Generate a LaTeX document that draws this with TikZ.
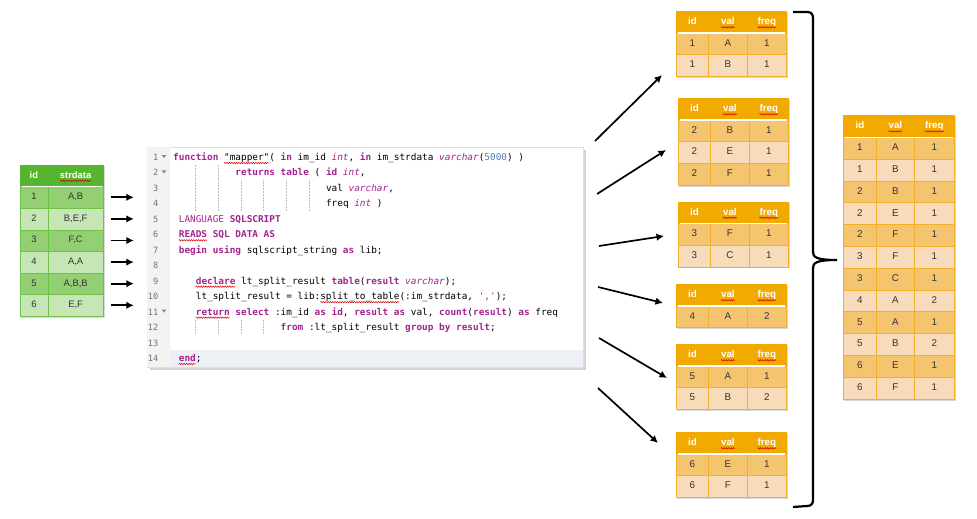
\documentclass[tikz,border=0pt]{standalone}
\usepackage{fontspec}
\setmainfont{Liberation Sans}
\setmonofont{DejaVu Sans Mono}
\usetikzlibrary{matrix,shadows,arrows.meta,decorations.pathmorphing}

\definecolor{grhead}{HTML}{55B52E}
\definecolor{grodd}{HTML}{93CF73}
\definecolor{greven}{HTML}{C6E6B5}
\definecolor{grline}{HTML}{70C24A}
\definecolor{orhead}{HTML}{F2A900}
\definecolor{orodd}{HTML}{F5C46F}
\definecolor{oreven}{HTML}{F8DBBA}
\definecolor{orline}{HTML}{F2B12C}
\definecolor{sqlkw}{HTML}{A3238F}
\definecolor{sqlnum}{HTML}{4F7FB0}
\definecolor{gutter}{HTML}{F3F3F3}
\definecolor{curline}{HTML}{EDF1F6}

\newcommand{\kw}[1]{\textcolor{sqlkw}{\bfseries #1}}
\newcommand{\ty}[1]{\textcolor{sqlkw}{\itshape #1}}
\newcommand{\nm}[1]{\textcolor{sqlnum}{#1}}
\newcommand{\codex}[1]{173+#1*5.66}
\newcommand{\codey}[1]{160.5+(#1-1)*15.46}

\begin{document}
\begin{tikzpicture}[x=1pt,y=-1pt,
	orange table/.style={matrix of nodes,anchor=north west,inner sep=0pt,
		row sep=-\pgflinewidth,column sep=-\pgflinewidth,
		drop shadow={shadow xshift=1pt,shadow yshift=-1.5pt,opacity=0.3},
		nodes={draw=orline,fill=oreven,inner sep=0pt,anchor=center,minimum height=21.6pt,
			text height=7pt,text depth=2pt,text=black!80,font=\fontsize{9.8}{11}\selectfont},
		column 1/.style={nodes={minimum width=32pt}},
		column 2/.style={nodes={minimum width=39pt}},
		column 3/.style={nodes={minimum width=39pt}},
		every even row/.style={nodes={fill=orodd}},
		row 1/.style={nodes={fill=orhead,draw=orhead,text=white,font=\fontsize{9.8}{11}\selectfont\bfseries}}},
	all table/.style={orange table,nodes={minimum height=21.8pt},
		column 1/.style={nodes={minimum width=33pt}},
		column 2/.style={nodes={minimum width=38pt}},
		column 3/.style={nodes={minimum width=40pt}}},
	green table/.style={matrix of nodes,anchor=north west,inner sep=0pt,
		row sep=-\pgflinewidth,column sep=-\pgflinewidth,
		drop shadow={shadow xshift=1pt,shadow yshift=-1.5pt,opacity=0.3},
		nodes={draw=grline,fill=greven,inner sep=0pt,anchor=center,minimum height=21.6pt,
			text height=6.8pt,text depth=1.9pt,text=black!80,font=\fontsize{9.4}{11}\selectfont},
		column 1/.style={nodes={minimum width=28pt}},
		column 2/.style={nodes={minimum width=55.5pt}},
		every even row/.style={nodes={fill=grodd}},
		row 1/.style={nodes={fill=grhead,draw=grhead,text=white,font=\fontsize{9.4}{11}\selectfont\bfseries}}},
	code box/.style={draw=black!12,fill=white,inner sep=0pt,minimum width=436pt,minimum height=220pt,
		drop shadow={shadow xshift=3pt,shadow yshift=-3pt,opacity=0.35}},
	code line/.style={anchor=base west,inner sep=0pt,font=\fontsize{9.4}{10}\selectfont\ttfamily},
	line no/.style={anchor=base east,inner sep=0pt,text=black!55,font=\fontsize{8.6}{10}\selectfont\ttfamily},
	guide/.style={densely dotted,black!25,line width=0.5pt},
	squig/.style={red!85!black,line width=0.5pt,decorate,decoration={snake,amplitude=0.7pt,segment length=2.4pt}},
	arr/.style={-{Latex[length=7.5pt,width=7.5pt]},line width=1.7pt}]

\useasboundingbox (0,0) rectangle (977,519);

% input rows
\matrix[green table] (indata) at (19.5,164.5) {
	id & strdata \\
	1 & A,B \\
	2 & B,E,F \\
	3 & F,C \\
	4 & A,A \\
	5 & A,B,B \\
	6 & E,F \\
};

% mapper function
\node[code box] (code) at (365,257) {};
\fill[gutter] ([shift={(0.5,0.5)}]code.north west) rectangle ([shift={(23,-0.5)}]code.south west);
\fill[curline] (170,350) rectangle ([shift={(-0.5,-0.5)}]code.south east);

\foreach \n in {1,...,14}
	\node[line no] (n\n) at (158.5,{\codey{\n}}) {\n};
\foreach \n in {1,2,11}
	\fill[black!45] (161.5,{\codey{\n}-5.5}) -- ++(5,0) -- ++(-2.5,3) -- cycle;

\foreach \k in {1,2}
	\draw[guide] ({\codex{4*\k}},{\codey{2}-11}) -- ({\codex{4*\k}},{\codey{2}+4});
\foreach \k in {1,...,6}
	\draw[guide] ({\codex{4*\k}},{\codey{3}-11}) -- ({\codex{4*\k}},{\codey{4}+4});
\foreach \k in {1,...,4}
	\draw[guide] ({\codex{4*\k}},{\codey{12}-11}) -- ({\codex{4*\k}},{\codey{12}+4});

\node[code line] (c1) at ({\codex{0}},{\codey{1}}) {\kw{function} "mapper"( \kw{in} im\_id \ty{int}, \kw{in} im\_strdata \ty{varchar}(\nm{5000}) )};
\node[code line] (c2) at ({\codex{11}},{\codey{2}}) {\kw{returns table} ( \kw{id} \ty{int},};
\node[code line] (c3) at ({\codex{27}},{\codey{3}}) {val \ty{varchar},};
\node[code line] (c4) at ({\codex{27}},{\codey{4}}) {freq \ty{int} )};
\node[code line] (c5) at ({\codex{1}},{\codey{5}}) {\textcolor{sqlkw}{LANGUAGE} \kw{SQLSCRIPT}};
\node[code line] (c6) at ({\codex{1}},{\codey{6}}) {\kw{READS SQL DATA AS}};
\node[code line] (c7) at ({\codex{1}},{\codey{7}}) {\kw{begin using} sqlscript\_string \kw{as} lib;};
\node[code line] (c9) at ({\codex{4}},{\codey{9}}) {\kw{declare} lt\_split\_result \kw{table}(\kw{result} \ty{varchar});};
\node[code line] (c10) at ({\codex{4}},{\codey{10}}) {lt\_split\_result = lib:split\_to\_table(:im\_strdata, \textcolor{sqlkw}{','});};
\node[code line] (c11) at ({\codex{4}},{\codey{11}}) {\kw{return select} :im\_id \kw{as} \kw{id}, \kw{result} \kw{as} val, \kw{count}(\kw{result}) \kw{as} freq};
\node[code line] (c12) at ({\codex{19}},{\codey{12}}) {\kw{from} :lt\_split\_result \kw{group by} \kw{result};};
\node[code line] (c14) at ({\codex{1}},{\codey{14}}) {\kw{end};};

\foreach \ln/\a/\b in {1/9/17,6/1/6,9/4/11,10/26/40,11/4/10,14/1/4}
	\draw[squig] ({\codex{\a}},{\codey{\ln}+2.5}) -- ({\codex{\b}},{\codey{\ln}+2.5});

% output of each call
\matrix[orange table] (t1) at (676,11) {
	id & val & freq \\
	1 & A & 1 \\
	1 & B & 1 \\
};
\matrix[orange table] (t2) at (678,98) {
	id & val & freq \\
	2 & B & 1 \\
	2 & E & 1 \\
	2 & F & 1 \\
};
\matrix[orange table] (t3) at (678,201.5) {
	id & val & freq \\
	3 & F & 1 \\
	3 & C & 1 \\
};
\matrix[orange table] (t4) at (676,284) {
	id & val & freq \\
	4 & A & 2 \\
};
\matrix[orange table] (t5) at (676,344) {
	id & val & freq \\
	5 & A & 1 \\
	5 & B & 2 \\
};
\matrix[orange table] (t6) at (676,432) {
	id & val & freq \\
	6 & E & 1 \\
	6 & F & 1 \\
};

% union
\matrix[all table] (alltab) at (843,115) {
	id & val & freq \\
	1 & A & 1 \\
	1 & B & 1 \\
	2 & B & 1 \\
	2 & E & 1 \\
	2 & F & 1 \\
	3 & F & 1 \\
	3 & C & 1 \\
	4 & A & 2 \\
	5 & A & 1 \\
	5 & B & 2 \\
	6 & E & 1 \\
	6 & F & 1 \\
};

\foreach \tb in {t1,t2,t3,t4,t5,t6,alltab} {
	\draw[white,line width=1.5pt] ([shift={(2,0)}]\tb-1-1.south west) -- ([shift={(-2,0)}]\tb-1-3.south east);
	\draw[squig] ([shift={(-7,2.6)}]\tb-1-2.base) -- ++(14,0);
	\draw[squig] ([shift={(-9.5,2.6)}]\tb-1-3.base) -- ++(19,0);
}
\draw[white,line width=1.5pt] ([shift={(2,0)}]indata-1-1.south west) -- ([shift={(-2,0)}]indata-1-2.south east);
\draw[squig] ([shift={(-15.5,2.6)}]indata-1-2.base) -- ++(31,0);

% arrows
\foreach \r in {2,...,7}
	\draw[arr,shorten <=7pt,shorten >=13pt] (indata-\r-2.east) -- (indata-\r-2.east -| code.west);

\coordinate (s1) at (595,141); \coordinate (e1) at (662,75);
\coordinate (s2) at (597,194); \coordinate (e2) at (666,150);
\coordinate (s3) at (599,246); \coordinate (e3) at (664,236);
\coordinate (s4) at (598,287); \coordinate (e4) at (663,303);
\coordinate (s5) at (599,338); \coordinate (e5) at (667,378);
\coordinate (s6) at (598,388); \coordinate (e6) at (658,443);
\foreach \i in {1,...,6}
	\draw[arr] (s\i) -- (e\i);

% brace
\draw[line width=2.2pt] (793,12) -- (807,12) .. controls (811,12) and (813,14) .. (813,18)
	-- (813,252) .. controls (813,257) and (816,260) .. (837,260)
	.. controls (816,260) and (813,263) .. (813,268)
	-- (813,500) .. controls (813,504) and (811,506) .. (807,506) -- (793,507);

\end{tikzpicture}
\end{document}
